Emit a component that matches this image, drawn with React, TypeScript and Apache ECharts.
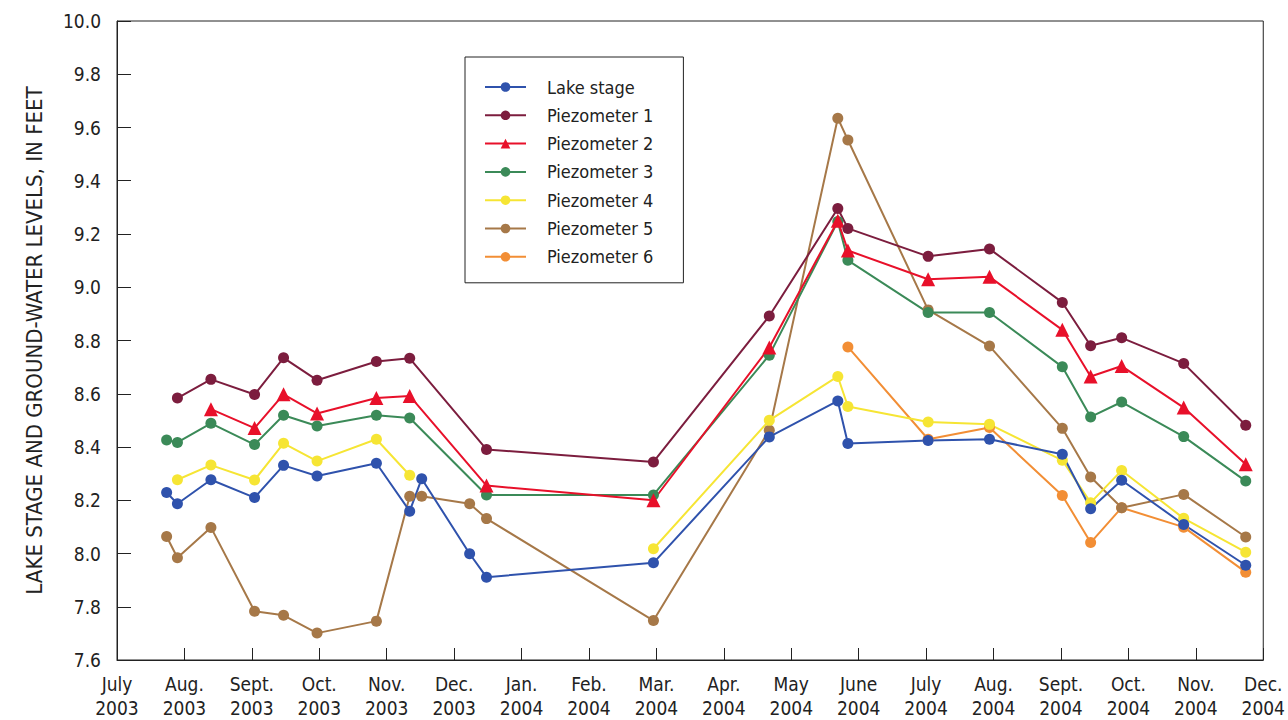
import React, { useEffect, useRef } from "react";
import * as echarts from "echarts";

// Sample dates as month index (0 = July 1, 2003; 17 = Dec 1, 2004)
const sampleMonths = [0.736, 0.896, 1.393, 2.04, 2.47, 2.967, 3.847, 4.341, 4.519, 5.23, 5.48, 7.956, 9.674, 10.69, 10.84, 12.03, 12.94, 14.02, 14.44, 14.9, 15.82, 16.74];

const monthNames = ["July", "Aug.", "Sept.", "Oct.", "Nov.", "Dec.", "Jan.", "Feb.", "Mar.", "Apr.", "May", "June", "July", "Aug.", "Sept.", "Oct.", "Nov.", "Dec."];
const monthYears = ["2003", "2003", "2003", "2003", "2003", "2003", "2004", "2004", "2004", "2004", "2004", "2004", "2004", "2004", "2004", "2004", "2004", "2004"];

// null = not sampled, "-" = break in record
const lakeStage = [8.229, 8.187, 8.277, 8.21, 8.331, 8.291, 8.339, 8.159, 8.281, 7.999, 7.911, 7.965, 8.438, 8.573, 8.413, 8.424, 8.429, 8.373, 8.168, 8.275, 8.109, 7.956];
const piezo1 = [null, 8.584, 8.654, 8.597, 8.735, 8.651, 8.721, 8.733, null, null, 8.391, 8.344, 8.892, 9.296, 9.221, 9.116, 9.144, 8.943, 8.78, 8.81, 8.714, 8.482];
const piezo2 = [null, null, 8.542, 8.471, 8.598, 8.526, 8.584, 8.592, null, null, 8.255, 8.2, 8.774, 9.25, 9.138, 9.03, 9.039, 8.84, 8.665, 8.704, 8.548, 8.335];
const piezo3 = [8.426, 8.417, 8.489, 8.409, 8.519, 8.479, 8.519, 8.509, null, null, 8.22, 8.22, 8.745, 9.247, 9.101, 8.905, 8.905, 8.701, 8.513, 8.569, 8.439, 8.272];
const piezo4 = [null, 8.277, 8.332, 8.276, 8.414, 8.347, 8.429, 8.294, "-", null, null, 8.018, 8.5, 8.665, 8.552, 8.494, 8.485, 8.35, 8.191, 8.312, 8.132, 8.005];
const piezo5 = [8.064, 7.984, 8.098, 7.783, 7.768, 7.701, 7.746, 8.215, 8.215, 8.187, 8.131, 7.748, 8.463, 9.635, 9.553, 8.915, 8.779, 8.47, 8.287, 8.172, 8.222, 8.062];
const piezo6 = [null, null, null, null, null, null, null, null, null, null, null, null, null, null, 8.776, 8.429, 8.473, 8.218, 8.041, 8.172, 8.099, 7.93];

const seriesNames = ["Lake stage", "Piezometer 1", "Piezometer 2", "Piezometer 3", "Piezometer 4", "Piezometer 5", "Piezometer 6"];
const seriesValues = [lakeStage, piezo1, piezo2, piezo3, piezo4, piezo5, piezo6];
const seriesColors = ["#2f52ac", "#7c1d3e", "#e8102a", "#3b8a58", "#f6e534", "#a67848", "#f28e35"];
const seriesSymbols = ["circle", "circle", "triangle", "circle", "circle", "circle", "circle"];

const FONT = "'Liberation Sans Narrow', 'DejaVu Sans Condensed', 'Roboto Condensed', 'Liberation Sans', sans-serif";

export default function App() {
  const ref = useRef<HTMLDivElement>(null);
  useEffect(() => {
    if (!ref.current) return;
    const chart = echarts.init(ref.current, null, { renderer: "svg" });
    const drawOrder = [6, 5, 4, 3, 2, 1, 0];
    const series = drawOrder.map((k) => ({
      name: seriesNames[k],
      type: "line",
      data: (seriesValues[k] as any[])
        .map((v, i) => (v === null ? null : [sampleMonths[i], v]))
        .filter((d) => d !== null),
      connectNulls: false,
      symbol: seriesSymbols[k],
      symbolSize: seriesSymbols[k] === "triangle" ? 14 : 11,
      showAllSymbol: true,
      itemStyle: { color: seriesColors[k] },
      lineStyle: { color: seriesColors[k], width: 2 },
    }));
    chart.setOption({
      animation: false,
      backgroundColor: "#ffffff",
      grid: {
        left: 117,
        right: 23,
        top: 21,
        bottom: 60,
        show: true,
        borderColor: "#222",
        borderWidth: 1,
        containLabel: false,
      },
      legend: {
        data: seriesNames,
        orient: "vertical",
        left: 465,
        top: 57,
        padding: [20, 30, 16, 19],
        borderColor: "#222",
        borderWidth: 1,
        backgroundColor: "#fff",
        itemWidth: 41,
        itemHeight: 12,
        itemGap: 8.3,
        textStyle: {
          fontFamily: FONT,
          fontSize: 18,
          color: "#222",
          lineHeight: 20,
          padding: [0, 0, 0, 16],
        },
      },
      xAxis: {
        type: "value",
        min: 0,
        max: 17,
        interval: 1,
        axisLine: { show: true, lineStyle: { color: "#222", width: 1 } },
        axisTick: { show: true, inside: true, length: 12, lineStyle: { color: "#222" } },
        splitLine: { show: false },
        axisLabel: {
          margin: 12,
          fontFamily: FONT,
          fontSize: 19,
          color: "#222",
          lineHeight: 24,
          formatter: (v: number) => {
            const i = Math.round(v);
            return monthNames[i] + "\n" + monthYears[i];
          },
        },
      },
      yAxis: {
        type: "value",
        min: 7.6,
        max: 10,
        interval: 0.2,
        name: "LAKE STAGE AND GROUND-WATER LEVELS, IN FEET",
        nameLocation: "middle",
        nameGap: 72,
        nameTextStyle: { fontFamily: FONT, fontSize: 22, color: "#222" },
        axisLine: { show: true, lineStyle: { color: "#222", width: 1 } },
        axisTick: { show: true, inside: true, length: 14, lineStyle: { color: "#222" } },
        splitLine: { show: false },
        axisLabel: {
          margin: 16,
          fontFamily: FONT,
          fontSize: 19,
          color: "#222",
          formatter: (v: number) => v.toFixed(1),
        },
      },
      series,
    });
    return () => chart.dispose();
  }, []);
  return <div ref={ref} style={{ width: 1288, height: 720, position: "absolute", left: 0, top: 0 }} />;
}
